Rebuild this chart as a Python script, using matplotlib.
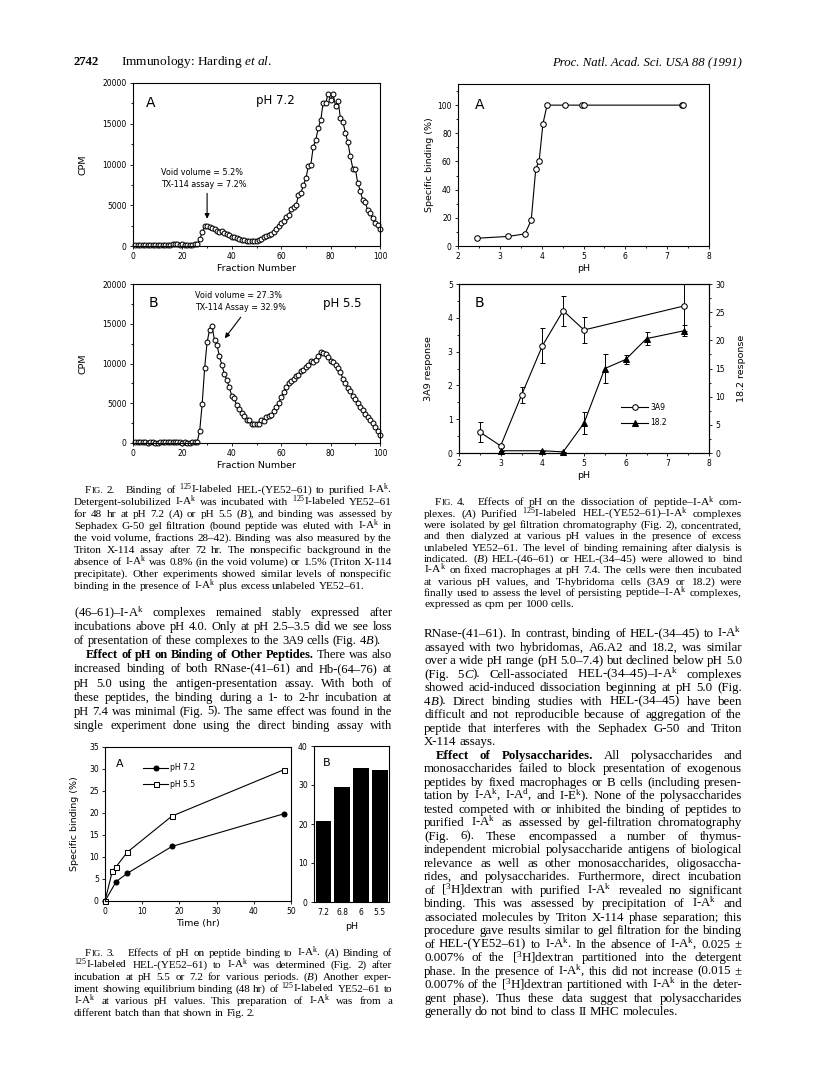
import re
import numpy as np
import matplotlib
matplotlib.use('Agg')
import matplotlib.pyplot as plt
from matplotlib.font_manager import FontProperties
from matplotlib.ticker import MultipleLocator

# page size in pixels (dpi 100)
W, H = 816, 1082

# ---- data ----
# Fig 2: gel filtration profiles
fraction = np.arange(1, 101)
cpm_ph72 = [150, 150, 100, 150, 150, 100, 150, 150, 150, 100,
            150, 100, 150, 150, 150, 300, 250, 200, 150, 200,
            150, 150, 100, 100, 200, 300, 800, 1700, 2400, 2450,
            2350, 2200, 2050, 1900, 1750, 1800, 1600, 1450, 1300, 1150,
            1050, 950, 800, 750, 700, 650, 650, 650, 650, 650,
            700, 900, 1100, 1200, 1350, 1500, 1700, 2100, 2500, 2800,
            3100, 3600, 3800, 4500, 4800, 5000, 6200, 6500, 7500, 8300,
            9800, 10000, 12200, 13000, 14500, 15400, 17600, 17500, 18700, 17900,
            18600, 17200, 17800, 15700, 15200, 13900, 12700, 11000, 9500, 9500,
            7700, 6800, 5600, 5400, 4400, 4000, 3400, 2800, 2600, 2100]
cpm_ph55 = [100, 100, 150, 100, 100, 50, 100, 100, 0, 50,
            100, 100, 100, 100, 100, 100, 100, 100, 100, 50,
            100, 50, 50, 100, 100, 150, 1500, 4900, 9400, 12700,
            14200, 14700, 12900, 12300, 10900, 9800, 8700, 7900, 7000, 5900,
            5600, 4750, 4300, 3800, 3400, 2950, 2900, 2450, 2400, 2450,
            2400, 2900, 2800, 3300, 3400, 3500, 4000, 4500, 5000, 5800,
            6400, 7000, 7500, 7800, 8000, 8400, 8600, 9000, 9200, 9500,
            9800, 10300, 10200, 10500, 11000, 11400, 11300, 11200, 10800, 10300,
            10200, 9800, 9400, 8900, 8100, 7600, 6900, 6500, 5900, 5500,
            5000, 4500, 4100, 3700, 3300, 2900, 2500, 2000, 1500, 1000]

# Fig 3A: time course
time_72 = [0, 3, 6, 18, 48]
bind_72 = [0, 4.4, 6.3, 12.4, 19.8]
time_55 = [0, 2, 3, 6, 18, 48]
bind_55 = [0, 6.9, 7.8, 11.1, 19.3, 29.8]
# Fig 3B: equilibrium binding
ph_labels = ['7.2', '6.8', '6', '5.5']
eq_binding = [20.8, 29.6, 34.3, 33.8]

# Fig 4A: dissociation
ph_diss = [2.45, 3.2, 3.6, 3.75, 3.86, 3.94, 4.03, 4.13, 4.55, 4.97, 5.01, 7.36, 7.39]
bound_pct = [5.5, 6.8, 8.6, 18.3, 55, 60.3, 86.8, 100, 100, 100, 100, 100, 100]

# Fig 4B: T cell responses
ph_3a9 = [2.5, 3, 3.5, 4, 4.5, 5, 7.4]
resp_3a9 = [0.62, 0.21, 1.71, 3.17, 4.21, 3.64, 4.35]
err_3a9 = [0.3, 0.04, 0.24, 0.52, 0.44, 0.39, 0.75]
ph_182 = [3, 4, 4.5, 5, 5.5, 6, 6.5, 7.4]
resp_182 = [0.4, 0.4, 0.2, 5.3, 15.0, 16.6, 20.3, 21.7]
err_182 = [0, 0, 0, 2.0, 2.6, 0.8, 1.1, 1.0]

plt.rcParams.update({
    'font.family': 'DejaVu Sans',
    'mathtext.fontset': 'custom',
    'mathtext.rm': 'Liberation Serif',
    'mathtext.it': 'Liberation Serif:italic',
    'mathtext.bf': 'Liberation Serif:bold',
    'xtick.direction': 'out', 'ytick.direction': 'out',
    'xtick.major.size': 2.5, 'ytick.major.size': 2.5,
    'xtick.minor.size': 1.5, 'ytick.minor.size': 1.5,
    'xtick.major.width': 0.6, 'ytick.major.width': 0.6,
    'xtick.minor.width': 0.6, 'ytick.minor.width': 0.6,
    'xtick.major.pad': 2, 'ytick.major.pad': 2,
    'xtick.labelsize': 5.5, 'ytick.labelsize': 5.5,
    'axes.linewidth': 0.8,
    'axes.labelsize': 6.8,
    'axes.labelpad': 2,
})

fig = plt.figure(figsize=(W / 100, H / 100), dpi=100)
renderer = fig.canvas.get_renderer()


def px_axes(x0, y0, x1, y1):
    return fig.add_axes([x0 / W, 1 - y1 / H, (x1 - x0) / W, (y1 - y0) / H])


# ---- running text ----
SERIF = 'Liberation Serif'


def fprops(style, fs):
    if style == 'b':
        return FontProperties(family=SERIF, size=fs, weight='bold')
    if style == 'i':
        return FontProperties(family=SERIF, size=fs, style='italic')
    if style == 's':
        return FontProperties(family=SERIF, size=fs * 0.78)
    return FontProperties(family=SERIF, size=fs)


def to_math(s):
    return re.sub(r'\^\{([^}]*)\}', lambda m: r'$^{\mathrm{%s}}$' % m.group(1), s)


def split_words(line):
    words = [[]]
    style = 'n'
    for part in re.split(r'(\[/?[bis]\])', line):
        if re.fullmatch(r'\[[bis]\]', part):
            style = part[1]
            continue
        if re.fullmatch(r'\[/[bis]\]', part):
            style = 'n'
            continue
        for j, chunk in enumerate(part.split(' ')):
            if j > 0:
                words.append([])
            if chunk:
                words[-1].append((chunk, style))
    return [w for w in words if w]


def layout(raw, fs):
    em = fs * 100 / 72
    items = []
    for word in split_words(raw.strip('>|')):
        pieces, ww = [], 0
        for txt, st in word:
            fp = fprops(st, fs)
            if txt == '_':
                pieces.append((None, fp, em * 0.35))
                ww += em * 0.35
                continue
            s = to_math(txt)
            w, h, d = renderer.get_text_width_height_descent(s, fp, ismath='$' in s)
            pieces.append((s, fp, w))
            ww += w
        items.append((pieces, ww))
    return items


def block(lines, x0, width, y0, dy, fs, indent=11, min_space=0.25):
    # pick the size so that the tightest justified line just fits
    ratio = []
    for raw in lines:
        if raw.endswith('|'):
            continue
        items = layout(raw, fs)
        nat = sum(ww for _, ww in items) + min_space * fs * 100 / 72 * (len(items) - 1)
        avail = width - (indent if raw.startswith('>') else 0)
        ratio.append(avail / nat)
    fs = fs * min(ratio)
    em = fs * 100 / 72
    for k, raw in enumerate(lines):
        ind = raw.startswith('>')
        last = raw.endswith('|')
        xs = x0 + (indent if ind else 0)
        avail = x0 + width - xs
        items = layout(raw, fs)
        total = sum(ww for _, ww in items)
        gap = em * 0.25
        if not last and len(items) > 1:
            gap = (avail - total) / (len(items) - 1)
        x = xs
        yb = y0 + k * dy + 0.24 * em
        for pieces, ww in items:
            xx = x
            for s, fp, w in pieces:
                if s is not None:
                    fig.text(xx / W, 1 - yb / H, s, fontproperties=fp,
                             ha='left', va='baseline')
                xx += w
            x += ww + gap


# header
fig.text(73 / W, 1 - 65 / H, '2742', fontproperties=fprops('b', 9.2), va='baseline')
fig.text(121 / W, 1 - 65 / H, r'Immunology: Harding $\mathit{et\ al.}$',
         fontproperties=fprops('n', 9.6), va='baseline')
fig.text(742 / W, 1 - 65 / H, 'Proc. Natl. Acad. Sci. USA 88 (1991)',
         fontproperties=fprops('i', 9.2), va='baseline', ha='right')

cap2 = [
    '>F[s]IG.[/s] 2. _ Binding of ^{125}I-labeled HEL-(YE52–61) to purified I-A^{k}.',
    'Detergent-solubilized I-A^{k} was incubated with ^{125}I-labeled YE52–61',
    'for 48 hr at pH 7.2 ([i]A[/i]) or pH 5.5 ([i]B[/i]), and binding was assessed by',
    'Sephadex G-50 gel filtration (bound peptide was eluted with I-A^{k} in',
    'the void volume, fractions 28–42). Binding was also measured by the',
    'Triton X-114 assay after 72 hr. The nonspecific background in the',
    'absence of I-A^{k} was 0.8% (in the void volume) or 1.5% (Triton X-114',
    'precipitate). Other experiments showed similar levels of nonspecific',
    'binding in the presence of I-A^{k} plus excess unlabeled YE52–61.|',
]
body_left = [
    '(46–61)–I-A^{k} complexes remained stably expressed after',
    'incubations above pH 4.0. Only at pH 2.5–3.5 did we see loss',
    'of presentation of these complexes to the 3A9 cells (Fig. 4[i]B[/i]).|',
    '>[b]Effect of pH on Binding of Other Peptides.[/b] There was also',
    'increased binding of both RNase-(41–61) and Hb-(64–76) at',
    'pH 5.0 using the antigen-presentation assay. With both of',
    'these peptides, the binding during a 1- to 2-hr incubation at',
    'pH 7.4 was minimal (Fig. 5). The same effect was found in the',
    'single experiment done using the direct binding assay with',
]
cap3 = [
    '>F[s]IG.[/s] 3. _ Effects of pH on peptide binding to I-A^{k}. ([i]A[/i]) Binding of',
    '^{125}I-labeled HEL-(YE52–61) to I-A^{k} was determined (Fig. 2) after',
    'incubation at pH 5.5 or 7.2 for various periods. ([i]B[/i]) Another exper-',
    'iment showing equilibrium binding (48 hr) of ^{125}I-labeled YE52–61 to',
    'I-A^{k} at various pH values. This preparation of I-A^{k} was from a',
    'different batch than that shown in Fig. 2.|',
]
cap4 = [
    '>F[s]IG.[/s] 4. _ Effects of pH on the dissociation of peptide–I-A^{k} com-',
    'plexes. ([i]A[/i]) Purified ^{125}I-labeled HEL-(YE52–61)–I-A^{k} complexes',
    'were isolated by gel filtration chromatography (Fig. 2), concentrated,',
    'and then dialyzed at various pH values in the presence of excess',
    'unlabeled YE52–61. The level of binding remaining after dialysis is',
    'indicated. ([i]B[/i]) HEL-(46–61) or HEL-(34–45) were allowed to bind',
    'I-A^{k} on fixed macrophages at pH 7.4. The cells were then incubated',
    'at various pH values, and T-hybridoma cells (3A9 or 18.2) were',
    'finally used to assess the level of persisting peptide–I-A^{k} complexes,',
    'expressed as cpm per 1000 cells.|',
]
body_right = [
    'RNase-(41–61). In contrast, binding of HEL-(34–45) to I-A^{k}',
    'assayed with two hybridomas, A6.A2 and 18.2, was similar',
    'over a wide pH range (pH 5.0–7.4) but declined below pH 5.0',
    '(Fig. 5[i]C[/i]). Cell-associated HEL-(34–45)–I-A^{k} complexes',
    'showed acid-induced dissociation beginning at pH 5.0 (Fig.',
    '4[i]B[/i]). Direct binding studies with HEL-(34–45) have been',
    'difficult and not reproducible because of aggregation of the',
    'peptide that interferes with the Sephadex G-50 and Triton',
    'X-114 assays.|',
    '>[b]Effect of Polysaccharides.[/b] All polysaccharides and',
    'monosaccharides failed to block presentation of exogenous',
    'peptides by fixed macrophages or B cells (including presen-',
    'tation by I-A^{k}, I-A^{d}, and I-E^{k}). None of the polysaccharides',
    'tested competed with or inhibited the binding of peptides to',
    'purified I-A^{k} as assessed by gel-filtration chromatography',
    '(Fig. 6). These encompassed a number of thymus-',
    'independent microbial polysaccharide antigens of biological',
    'relevance as well as other monosaccharides, oligosaccha-',
    'rides, and polysaccharides. Furthermore, direct incubation',
    'of [^{3}H]dextran with purified I-A^{k} revealed no significant',
    'binding. This was assessed by precipitation of I-A^{k} and',
    'associated molecules by Triton X-114 phase separation; this',
    'procedure gave results similar to gel filtration for the binding',
    'of HEL-(YE52–61) to I-A^{k}. In the absence of I-A^{k}, 0.025 ±',
    '0.007% of the [^{3}H]dextran partitioned into the detergent',
    'phase. In the presence of I-A^{k}, this did not increase (0.015 ±',
    '0.007% of the [^{3}H]dextran partitioned with I-A^{k} in the deter-',
    'gent phase). Thus these data suggest that polysaccharides',
    'generally do not bind to class II MHC molecules.|',
]

block(cap2, 74, 318, 490, 12.0, 7.6)
block(body_left, 74, 318, 613, 14.1, 8.6, indent=12)
block(cap3, 74, 318, 953, 12.0, 7.6)
block(cap4, 424, 318, 502.7, 11.3, 7.6)
block(body_right, 424, 318, 634, 13.5, 8.6, indent=12)

line_kw = dict(color='k', lw=0.8, mew=0.75, clip_on=False)

# ---- Fig 2A ----
ax = px_axes(133, 83, 380, 246)
ax.plot(fraction, cpm_ph72, '-o', mfc='white', ms=3.5, **line_kw)
ax.set_xlim(0, 100)
ax.set_ylim(0, 20000)
ax.xaxis.set_major_locator(MultipleLocator(20))
ax.xaxis.set_minor_locator(MultipleLocator(10))
ax.yaxis.set_major_locator(MultipleLocator(5000))
ax.yaxis.set_minor_locator(MultipleLocator(2500))
ax.set_xlabel('Fraction Number')
ax.set_ylabel('CPM')
ax.yaxis.set_label_coords(-0.185, 0.5)
ax.text(5.4, 17500, 'A', fontsize=10, va='center')
ax.text(50, 17900, 'pH 7.2', fontsize=8.5, va='center')
ax.text(11.5, 9000, 'Void volume = 5.2%', fontsize=5.8, va='center')
ax.text(11.5, 7500, 'TX-114 assay = 7.2%', fontsize=5.8, va='center')
ax.annotate('', xy=(30, 3000), xytext=(30, 6800),
            arrowprops=dict(arrowstyle='-|>', lw=0.8, color='k', mutation_scale=7))

# ---- Fig 2B ----
ax = px_axes(133, 284, 380, 443)
ax.plot(fraction, cpm_ph55, '-o', mfc='white', ms=3.5, **line_kw)
ax.set_xlim(0, 100)
ax.set_ylim(0, 20000)
ax.xaxis.set_major_locator(MultipleLocator(20))
ax.xaxis.set_minor_locator(MultipleLocator(10))
ax.yaxis.set_major_locator(MultipleLocator(5000))
ax.yaxis.set_minor_locator(MultipleLocator(2500))
ax.set_xlabel('Fraction Number')
ax.set_ylabel('CPM')
ax.yaxis.set_label_coords(-0.185, 0.5)
ax.text(6.5, 17600, 'B', fontsize=10, va='center')
ax.text(77, 17600, 'pH 5.5', fontsize=8.5, va='center')
ax.text(25, 18600, 'Void volume = 27.3%', fontsize=5.8, va='center')
ax.text(25, 17100, 'TX-114 Assay = 32.9%', fontsize=5.8, va='center')
ax.annotate('', xy=(36.5, 12900), xytext=(44.3, 16100),
            arrowprops=dict(arrowstyle='-|>', lw=0.8, color='k', mutation_scale=7))

# ---- Fig 3A ----
ax = px_axes(105, 747, 291, 901)
ax.plot(time_72, bind_72, '-o', ms=3.6, label='pH 7.2', **line_kw)
ax.plot(time_55, bind_55, '-s', mfc='white', ms=3.6, label='pH 5.5', **line_kw)
ax.set_xlim(0, 50)
ax.set_ylim(0, 35)
ax.xaxis.set_major_locator(MultipleLocator(10))
ax.yaxis.set_major_locator(MultipleLocator(5))
ax.set_xlabel('Time (hr)')
ax.set_ylabel('Specific binding (%)')
ax.yaxis.set_label_coords(-0.14, 0.5)
ax.text(0.06, 0.89, 'A', transform=ax.transAxes, fontsize=8, va='center')
ax.legend(loc='center left', bbox_to_anchor=(0.17, 0.81), frameon=False,
          fontsize=5.5, handlelength=3.2, labelspacing=1.0, handletextpad=0.3)

# ---- Fig 3B ----
ax = px_axes(314, 746, 389, 902)
ax.bar(range(len(ph_labels)), eq_binding, width=0.84, color='k')
ax.set_xlim(-0.5, 3.5)
ax.set_ylim(0, 40)
ax.set_xticks(range(len(ph_labels)))
ax.set_xticklabels(ph_labels)
ax.tick_params(axis='x', length=0, pad=4)
ax.yaxis.set_major_locator(MultipleLocator(10))
ax.set_xlabel('pH', labelpad=4)
ax.text(0.12, 0.89, 'B', transform=ax.transAxes, fontsize=8, va='center')

# ---- Fig 4A ----
ax = px_axes(458, 84, 709, 246)
ax.plot(ph_diss, bound_pct, '-o', mfc='white', ms=4.0, **line_kw)
ax.set_xlim(2, 8)
ax.set_ylim(0, 115)
ax.xaxis.set_major_locator(MultipleLocator(1))
ax.xaxis.set_minor_locator(MultipleLocator(0.5))
ax.yaxis.set_major_locator(MultipleLocator(20))
ax.yaxis.set_minor_locator(MultipleLocator(10))
ax.set_xlabel('pH')
ax.set_ylabel('Specific binding (%)')
ax.yaxis.set_label_coords(-0.095, 0.5)
ax.text(0.066, 0.87, 'A', transform=ax.transAxes, fontsize=10, va='center')

# ---- Fig 4B ----
ax = px_axes(459, 284, 709, 453)
ax2 = ax.twinx()
ax.errorbar(ph_3a9, resp_3a9, yerr=err_3a9, fmt='none', ecolor='k',
            elinewidth=0.7, capsize=1.8, capthick=0.7)
h1, = ax.plot(ph_3a9, resp_3a9, '-o', mfc='white', ms=4.0, label='3A9', **line_kw)
ax2.errorbar(ph_182, resp_182, yerr=err_182, fmt='none', ecolor='k',
             elinewidth=0.7, capsize=1.8, capthick=0.7)
h2, = ax2.plot(ph_182, resp_182, '-^', ms=3.8, label='18.2', **line_kw)
ax.set_xlim(2, 8)
ax.set_ylim(0, 5)
ax2.set_ylim(0, 30)
ax.xaxis.set_major_locator(MultipleLocator(1))
ax.xaxis.set_minor_locator(MultipleLocator(0.5))
ax.yaxis.set_major_locator(MultipleLocator(1))
ax.yaxis.set_minor_locator(MultipleLocator(0.5))
ax2.yaxis.set_major_locator(MultipleLocator(5))
ax2.yaxis.set_minor_locator(MultipleLocator(2.5))
ax.set_xlabel('pH')
ax.set_ylabel('3A9 response')
ax2.set_ylabel('18.2 response')
ax.yaxis.set_label_coords(-0.105, 0.5)
ax2.yaxis.set_label_coords(1.11, 0.5)
ax.text(0.063, 0.885, 'B', transform=ax.transAxes, fontsize=10, va='center')
ax.legend([h1, h2], ['3A9', '18.2'], loc='center left', bbox_to_anchor=(0.62, 0.225),
          frameon=False, fontsize=5.5, handlelength=3.6, labelspacing=0.9,
          handletextpad=0.3)

fig.savefig('out.png', dpi=100)
